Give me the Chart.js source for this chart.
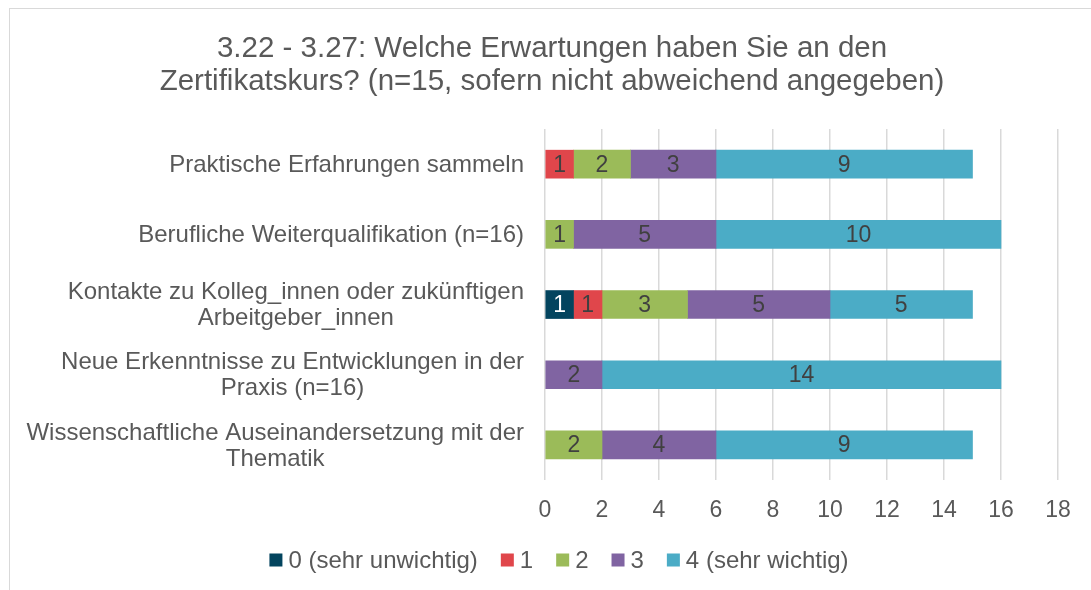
<!DOCTYPE html>
<html>
<head>
<meta charset="utf-8">
<script src="https://cdn.jsdelivr.net/npm/chart.js@4/dist/chart.umd.min.js"></script>
<style>
  html, body { margin: 0; padding: 0; background: #fff; overflow: hidden; }
  #frame {
    position: absolute; left: 9px; top: 8px; width: 1100px; height: 600px;
    border-left: 1px solid #d9d9d9; border-top: 1px solid #d9d9d9;
  }
  #chart { position: absolute; left: 9px; top: 8px; }
</style>
</head>
<body>
<div id="frame"></div>
<canvas id="chart" width="1088" height="582"></canvas>
<script>
// categories (top to bottom), multi-line labels as arrays
const categories = [
  ['Praktische Erfahrungen sammeln'],
  ['Berufliche Weiterqualifikation (n=16)'],
  ['Kontakte zu Kolleg_innen oder zukünftigen', 'Arbeitgeber_innen'],
  ['Neue Erkenntnisse zu Entwicklungen in der', 'Praxis (n=16)'],
  ['Wissenschaftliche Auseinandersetzung mit der', 'Thematik']
];

// answer counts per rating
const seriesNames = ['0 (sehr unwichtig)', '1', '2', '3', '4 (sehr wichtig)'];
const rating0 = [0, 0, 1, 0, 0];
const rating1 = [1, 0, 1, 0, 0];
const rating2 = [2, 1, 3, 0, 2];
const rating3 = [3, 5, 5, 2, 4];
const rating4 = [9, 10, 5, 14, 9];
const seriesColors = ['#03445E', '#E0464B', '#9BBB59', '#8064A2', '#4BACC6'];

const xTicks = [0, 2, 4, 6, 8, 10, 12, 14, 16, 18];

const TEXT = '#595959';
const FONT = "'Liberation Sans', Arial, sans-serif";

// value labels in the middle of each segment
const valueLabels = {
  id: 'valueLabels',
  afterDatasetsDraw(chart) {
    const ctx = chart.ctx;
    ctx.save();
    ctx.font = '23px ' + FONT;
    ctx.textAlign = 'center';
    ctx.textBaseline = 'middle';
    chart.data.datasets.forEach((ds, i) => {
      const meta = chart.getDatasetMeta(i);
      meta.data.forEach((bar, j) => {
        const v = ds.data[j];
        if (!v) return;
        ctx.fillStyle = i === 0 ? '#ffffff' : '#404040';
        ctx.fillText(String(v), (bar.x + bar.base) / 2, bar.y + 1);
      });
    });
    ctx.restore();
  }
};

// category labels: block right-aligned, lines centred within the block
const categoryLabels = {
  id: 'categoryLabels',
  afterDraw(chart) {
    const ctx = chart.ctx;
    const y = chart.scales.y;
    const rightEdge = chart.chartArea.left - 21;
    const lh = 26;
    ctx.save();
    ctx.font = '24px ' + FONT;
    ctx.fillStyle = TEXT;
    ctx.textAlign = 'center';
    ctx.textBaseline = 'middle';
    categories.forEach((lines, i) => {
      const w = Math.max(...lines.map(l => ctx.measureText(l).width));
      const cx = rightEdge - w / 2;
      const cy = y.getPixelForTick(i) + 1;
      const y0 = cy - (lines.length - 1) * lh / 2;
      lines.forEach((l, k) => ctx.fillText(l, cx, y0 + k * lh));
    });
    ctx.restore();
  }
};

// legend row under the axis (boxes close to their text, like the original)
const bottomLegend = {
  id: 'bottomLegend',
  afterDraw(chart) {
    const ctx = chart.ctx;
    const box = 13, gap = 6, spacing = 23;
    const cy = chart.scales.x.bottom + 34;
    ctx.save();
    ctx.font = '24px ' + FONT;
    ctx.textBaseline = 'middle';
    ctx.textAlign = 'left';
    const items = chart.data.datasets.map(ds => ({
      text: ds.label, color: ds.backgroundColor, w: ctx.measureText(ds.label).width
    }));
    const total = items.reduce((s, it) => s + box + gap + it.w, 0) + spacing * (items.length - 1);
    let x = chart.width / 2 + 6 - total / 2;
    items.forEach(it => {
      ctx.fillStyle = it.color;
      ctx.fillRect(x, cy - box / 2, box, box);
      ctx.fillStyle = TEXT;
      ctx.fillText(it.text, x + box + gap, cy + 1);
      x += box + gap + it.w + spacing;
    });
    ctx.restore();
  }
};

const allSeries = [rating0, rating1, rating2, rating3, rating4];

new Chart(document.getElementById('chart'), {
  type: 'bar',
  data: {
    labels: categories.map(c => c.join(' ')),
    datasets: allSeries.map((d, i) => ({
      label: seriesNames[i],
      data: d.map(v => v === 0 ? null : v),
      backgroundColor: seriesColors[i],
      borderWidth: 0,
      barThickness: 28
    }))
  },
  options: {
    indexAxis: 'y',
    responsive: false,
    animation: false,
    layout: { padding: { left: 37, right: 39, top: 0, bottom: 64 } },
    scales: {
      x: {
        stacked: true,
        min: 0,
        max: 18,
        afterBuildTicks: s => { s.ticks = xTicks.map(v => ({ value: v })); },
        afterFit: s => { s.height = 46; },
        border: { display: false },
        grid: { color: '#d9d9d9', lineWidth: 1.5, drawTicks: false },
        ticks: { color: TEXT, padding: 17, font: { size: 23, family: FONT } }
      },
      y: {
        stacked: true,
        afterFit: s => { s.width = 499; },
        border: { display: false },
        grid: { display: false },
        ticks: { display: false }
      }
    },
    plugins: {
      title: {
        display: true,
        text: ['3.22 - 3.27: Welche Erwartungen haben Sie an den', 'Zertifikatskurs? (n=15, sofern nicht abweichend angegeben)'],
        color: TEXT,
        font: { size: 29.5, family: FONT, weight: 'normal', lineHeight: 1.12 },
        padding: { top: 24, bottom: 31 }
      },
      legend: { display: false },
      tooltip: { enabled: false }
    }
  },
  plugins: [valueLabels, categoryLabels, bottomLegend]
});
</script>
</body>
</html>
